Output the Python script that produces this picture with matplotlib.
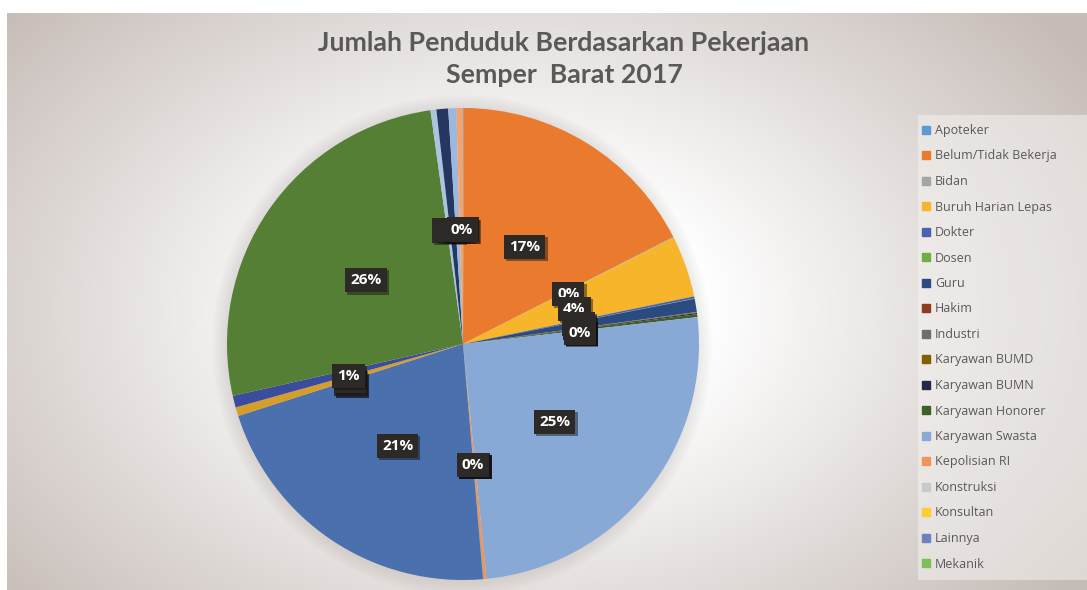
import numpy as np
import matplotlib.pyplot as plt
import matplotlib.patheffects as pe
from matplotlib.lines import Line2D
from matplotlib.patches import Circle, Rectangle

# data (persen), urut sesuai legend excel
pekerjaan = ["Apoteker", "Belum/Tidak Bekerja", "Bidan", "Buruh Harian Lepas",
             "Dokter", "Dosen", "Guru", "Hakim", "Industri", "Karyawan BUMD",
             "Karyawan BUMN", "Karyawan Honorer", "Karyawan Swasta", "Kepolisian RI",
             "Konstruksi", "Konsultan", "Lainnya", "Mekanik",
             "Mengurus Rumah Tangga", "Nelayan/Perikanan", "Notaris", "Pedagang",
             "Pegawai Negeri Sipil", "Pelajar/Mahasiswa", "Pensiunan",
             "Tentara Nasional Indonesia", "Transportasi", "Wiraswasta"]
persen = [0.05, 17.44, 0.05, 4.2,
          0.15, 0.02, 0.9, 0.0, 0.02, 0.05,
          0.08, 0.2, 25.2, 0.2,
          0.0, 0.0, 0.02, 0.02,
          21.4, 0.0, 0.0, 0.6,
          0.8, 26.3, 0.4,
          0.8, 0.55, 0.45]
warna = ["#5B9BD5", "#E97A2E", "#A5A5A5", "#F7B52B",
         "#4A62B0", "#70AD47", "#2B4B80", "#8E3B22", "#6E6E6E", "#806000",
         "#22284A", "#3E5E2A", "#88A9D6", "#F0955A",
         "#C9C9C9", "#FFCD33", "#6F80C0", "#7CBF55",
         "#4A70AE", "#C55A11", "#7B7B7B", "#D59D2A",
         "#3A4C9B", "#567F36", "#AAC4E2",
         "#25365F", "#9CB8DE", "#F2A46E"]
n_legend = 18

W, H = 1087, 590
fig = plt.figure(figsize=(W / 100, H / 100), dpi=100)
fig.patch.set_facecolor("white")

# background gradient (radial)
bg = fig.add_axes([7 / W, 0, (W - 7) / W, (H - 13) / H])
yy, xx = np.mgrid[13:H, 7:W]
d = np.sqrt(((xx - 520) / 620.0) ** 2 + ((yy - 310) / 420.0) ** 2)
t = np.clip((d - 0.3) / 0.8, 0, 1)[..., None]
edge = np.array([198, 188, 183]) / 255.0
img = (1 - t) * 1.0 + t * edge
bg.imshow(img, aspect="auto", extent=[0, 1, 0, 1])
bg.axis("off")

# pie
cx, cy, R = 463, 344, 236
half = 250
ax = fig.add_axes([(cx - half) / W, (H - cy - half) / H, 2 * half / W, 2 * half / H])

for r in np.linspace(1.0, 1.06, 8):
    ax.add_patch(Circle((-0.004, -0.004), r, color="#8a807a", alpha=0.025, lw=0, zorder=0))

wedges, _ = ax.pie(persen, colors=warna, startangle=90, counterclock=False,
                   radius=1.0, wedgeprops=dict(linewidth=0))
for w in wedges:
    w.set_zorder(2)
ax.set_xlim(-half / R, half / R)
ax.set_ylim(-half / R, half / R)
ax.axis("off")

total = sum(persen)
for w, v in zip(wedges, persen):
    ang = np.deg2rad((w.theta1 + w.theta2) / 2)
    x, y = 0.5 * np.cos(ang), 0.5 * np.sin(ang)
    txt = ax.text(x, y - 0.015, "{:.0f}%".format(v / total * 100), ha="center", va="center",
                  color="white", fontsize=11, fontweight="bold", family="Open Sans",
                  zorder=5,
                  bbox=dict(boxstyle="square,pad=0.33", fc="#2D2927", ec="none"))
    txt.get_bbox_patch().set_path_effects(
        [pe.SimplePatchShadow(offset=(1.5, -1.5), alpha=0.45), pe.Normal()])

# title
fig.text(564 / W, 1 - 59 / H, "Jumlah Penduduk Berdasarkan Pekerjaan\nSemper  Barat 2017",
         ha="center", va="center", fontsize=19.3, fontweight="bold", color="#595959",
         family="Lato", linespacing=1.42)

# legend
fig.patches.append(Rectangle((918 / W, 1 - 580 / H), (W - 918) / W, 465 / H,
                             transform=fig.transFigure, fc="#F4F2F0", ec="none",
                             alpha=0.55, zorder=1))
handles = [Line2D([], [], marker="s", ls="none", markersize=5.5, color=c)
           for c in warna[:n_legend]]
leg = fig.legend(handles, pekerjaan[:n_legend], loc="upper left",
                 bbox_to_anchor=(922 / W, 1 - 124 / H), frameon=False,
                 prop=dict(family="Open Sans", size=9), labelcolor="#595959",
                 handlelength=0.6, handletextpad=0.45, labelspacing=1.0,
                 borderaxespad=0, borderpad=0)

fig.savefig("out.png", dpi=100)
